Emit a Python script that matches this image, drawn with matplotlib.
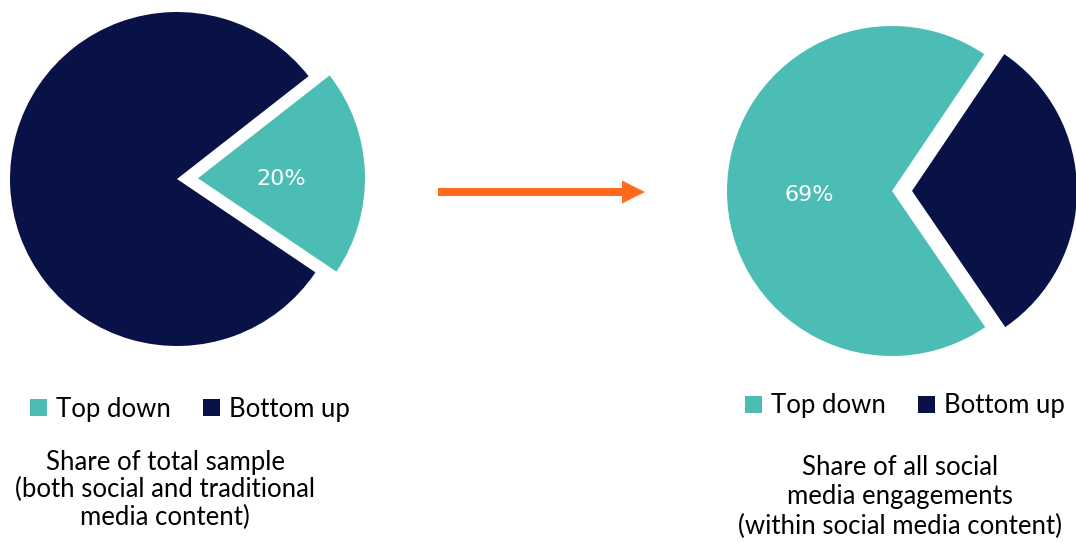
import matplotlib
matplotlib.use("Agg")
import matplotlib.pyplot as plt
import numpy as np
from matplotlib.patches import FancyArrow

# Data
categories = ["Top down", "Bottom up"]
sample_share = [20, 80]          # share of total sample (%)
engagement_share = [69, 31]      # share of social media engagements (%)
caption_left = "Share of total sample\n(both social and traditional\nmedia content)"
caption_right = "Share of all social\nmedia engagements\n(within social media content)"

TEAL = "#4bbdb4"
NAVY = "#081246"
ORANGE = "#ff6a1c"

plt.rcParams["font.family"] = ["Lato", "DejaVu Sans"]

W, H = 1076, 543
fig = plt.figure(figsize=(W / 100, H / 100), dpi=100)
ax = fig.add_axes([0, 0, 1, 1])

# Left pie: teal slice pulled out to the right (explode is in data units here)
w_left, _ = ax.pie(sample_share, colors=[TEAL, NAVY], startangle=-34,
                   counterclock=True, center=(177, 364), radius=167,
                   explode=[21, 0], wedgeprops=dict(linewidth=0))
# Right pie: navy slice pulled out to the right
w_right, _ = ax.pie(engagement_share, colors=[TEAL, NAVY], startangle=56,
                    counterclock=True, center=(892, 352), radius=165,
                    explode=[0, 20], wedgeprops=dict(linewidth=0))

ax.set_xlim(0, W)
ax.set_ylim(0, H)
ax.set_axis_off()


def label_wedge(wedge, value, frac=0.5):
    th = np.deg2rad((wedge.theta1 + wedge.theta2) / 2)
    cx, cy = wedge.center
    r = wedge.r
    ax.text(cx + frac * r * np.cos(th), cy + frac * r * np.sin(th) - 4,
            f"{value}%", color="white", fontsize=16, ha="center", va="center",
            family="DejaVu Sans")


label_wedge(w_left[0], sample_share[0])
label_wedge(w_right[0], engagement_share[0])

# Arrow between the pies
ax.add_patch(FancyArrow(438, 351, 207, 0, width=8, head_width=23,
                        head_length=23, length_includes_head=True,
                        color=ORANGE, linewidth=0))

# Legends
leg_kw = dict(loc="center", ncol=2, frameon=False, fontsize=18.5,
              handlelength=0.65, handleheight=0.65, handletextpad=0.35,
              columnspacing=1.25, borderaxespad=0, borderpad=0)
fig.legend(w_left, categories, bbox_to_anchor=(190 / W, 1 - 409 / H), **leg_kw)
fig.legend(w_right, categories, bbox_to_anchor=(905 / W, 1 - 406 / H), **leg_kw)

# Captions
ax.text(165, H - 490, caption_left, ha="center", va="center", fontsize=18.5,
        linespacing=1.1)
ax.text(900, H - 497, caption_right, ha="center", va="center", fontsize=18.5,
        linespacing=1.24)

fig.savefig("out.png", dpi=100, facecolor="white")
